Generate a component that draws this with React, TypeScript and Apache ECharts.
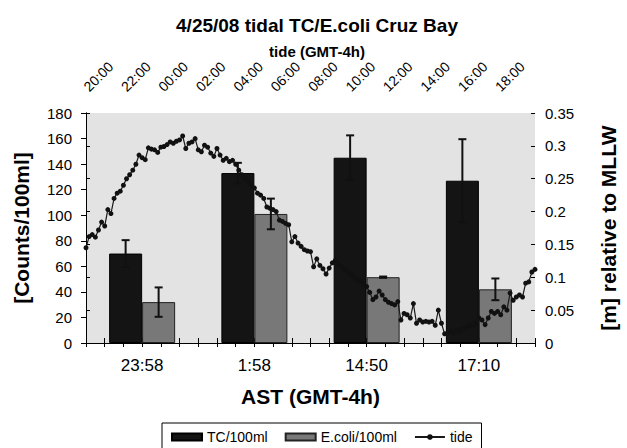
import React, { useEffect, useRef } from "react";
import * as echarts from "echarts";

const categories = ["23:58", "1:58", "14:50", "17:10"];
const tcValues = [70, 133, 145, 127];
const tcErrors = [10.5, 8, 17.5, 32.5];
const ecoliValues = [32, 101, 51.5, 42];
const ecoliErrors = [11.5, 12, 0.5, 8.5];
const topTickLabels = ["20:00", "22:00", "00:00", "02:00", "04:00", "06:00", "08:00", "10:00", "12:00", "14:00", "16:00", "18:00"];
// tide level [m] sampled every 10 minutes starting 20:00 (GMT-4h)
const tideStepHours = 1 / 6;
const tideLevels = [
  0.145, 0.162, 0.165, 0.161, 0.172, 0.184, 0.178, 0.203, 0.197, 0.22,
  0.228, 0.231, 0.24, 0.25, 0.256, 0.263, 0.272, 0.286, 0.282, 0.279,
  0.297, 0.295, 0.294, 0.29, 0.298, 0.299, 0.302, 0.306, 0.304, 0.307,
  0.309, 0.315, 0.296, 0.304, 0.306, 0.311, 0.294, 0.291, 0.301, 0.298,
  0.289, 0.284, 0.296, 0.286, 0.278, 0.281, 0.276, 0.278, 0.272, 0.263,
  0.256, 0.25, 0.246, 0.241, 0.236, 0.228, 0.225, 0.22, 0.207, 0.205,
  0.203, 0.2, 0.187, 0.185, 0.182, 0.18, 0.154, 0.162, 0.152, 0.147,
  0.142, 0.14, 0.139, 0.116, 0.128, 0.118, 0.113, 0.105, 0.114, 0.122,
  0.126, 0.12, 0.116, 0.112, 0.108, 0.104, 0.1, 0.097, 0.094, 0.09,
  0.086, 0.077, 0.066, 0.07, 0.079, 0.073, 0.066, 0.062, 0.06, 0.058,
  0.063, 0.035, 0.045, 0.043, 0.038, 0.06, 0.03, 0.035, 0.032, 0.033,
  0.032, 0.033, 0.027, 0.05, 0.03, 0.014, 0.016, 0.018, 0.015, 0.02,
  0.018, 0.022, 0.024, 0.027, 0.025, 0.03, 0.038, 0.035, 0.028, 0.038,
  0.048, 0.045, 0.048, 0.043, 0.055, 0.05, 0.076, 0.065, 0.07, 0.073,
  0.07, 0.091, 0.093, 0.108, 0.112,
];

const FONT = "'Liberation Sans', Arial, sans-serif";
const BAR_WIDTH = 33;

function errorRenderer(params: any, api: any) {
  const idx = api.value(0);
  const val = api.value(1);
  const err = api.value(2);
  const sign = api.value(3);
  const top = api.coord([idx, val + err]);
  const bot = api.coord([idx, val - err]);
  const x = top[0] + (sign * BAR_WIDTH) / 2;
  const cap = 4;
  const style = { stroke: "#111", lineWidth: 2 };
  return {
    type: "group",
    children: [
      { type: "line", shape: { x1: x, y1: top[1], x2: x, y2: bot[1] }, style },
      { type: "line", shape: { x1: x - cap, y1: top[1], x2: x + cap, y2: top[1] }, style },
      { type: "line", shape: { x1: x - cap, y1: bot[1], x2: x + cap, y2: bot[1] }, style },
    ],
  };
}

export default function App() {
  const ref = useRef<HTMLDivElement>(null);
  useEffect(() => {
    if (!ref.current) return;
    const chart = echarts.init(ref.current, undefined, { renderer: "svg" });
    const axisLineStyle = { color: "#000", width: 1 };
    const option: any = {
      animation: false,
      backgroundColor: "#fff",
      textStyle: { fontFamily: FONT, color: "#000" },
      title: {
        text: "4/25/08 tidal TC/E.coli Cruz Bay",
        subtext: "tide (GMT-4h)",
        left: 317,
        textAlign: "center",
        top: 16,
        padding: 0,
        itemGap: 9,
        textStyle: { fontFamily: FONT, fontSize: 19, fontWeight: "bold", color: "#000" },
        subtextStyle: { fontFamily: FONT, fontSize: 15, fontWeight: "bold", color: "#000" },
      },
      legend: {
        left: 162,
        top: 423,
        padding: [7, 9, 7, 9],
        borderColor: "#000",
        borderWidth: 1,
        itemWidth: 30,
        itemHeight: 7,
        itemGap: 17,
        textStyle: { fontFamily: FONT, fontSize: 14, color: "#000" },
        data: [
          { name: "TC/100ml", icon: "rect" },
          { name: "E.coli/100ml", icon: "rect" },
          { name: "tide" },
        ],
      },
      grid: {
        left: 86,
        right: 79,
        top: 113,
        bottom: 105,
        show: true,
        backgroundColor: "#e3e3e3",
        borderWidth: 0,
      },
      xAxis: [
        {
          type: "category",
          position: "bottom",
          data: categories,
          axisLine: { show: true, lineStyle: axisLineStyle },
          axisTick: { show: true, length: 4, lineStyle: axisLineStyle },
          axisLabel: { fontFamily: FONT, fontSize: 17, color: "#000", margin: 14 },
          name: "AST (GMT-4h)",
          nameLocation: "middle",
          nameGap: 43,
          nameTextStyle: { fontFamily: FONT, fontSize: 21, fontWeight: "bold", color: "#000" },
        },
        {
          type: "value",
          position: "top",
          min: 0,
          max: 24,
          interval: 1,
          axisLine: { show: true, lineStyle: axisLineStyle },
          axisTick: { show: true, length: 5, lineStyle: axisLineStyle },
          splitLine: { show: false },
          axisLabel: {
            fontFamily: FONT,
            fontSize: 14,
            color: "#000",
            rotate: 45,
            margin: 24,
            formatter: (v: number) => (v % 2 === 0 ? topTickLabels[v / 2] ?? "" : ""),
          },
        },
        {
          type: "value",
          position: "top",
          min: 0,
          max: 24,
          interval: 1,
          axisLine: { show: false },
          axisTick: { show: true, inside: true, length: 4, lineStyle: axisLineStyle },
          axisLabel: { show: false },
          splitLine: { show: false },
        },
        {
          type: "category",
          position: "bottom",
          data: categories,
          axisLine: { show: false },
          axisTick: { show: true, inside: true, length: 4, lineStyle: axisLineStyle },
          axisLabel: { show: false },
        },
      ],
      yAxis: [
        {
          type: "value",
          position: "left",
          min: 0,
          max: 180,
          interval: 20,
          axisLine: { show: true, lineStyle: axisLineStyle },
          axisTick: { show: true, length: 5, lineStyle: axisLineStyle },
          splitLine: { show: false },
          axisLabel: { fontFamily: FONT, fontSize: 15, color: "#000", margin: 14 },
          name: "[Counts/100ml]",
          nameLocation: "middle",
          nameGap: 54,
          nameTextStyle: { fontFamily: FONT, fontSize: 21, fontWeight: "bold", color: "#000" },
        },
        {
          type: "value",
          position: "right",
          min: 0,
          max: 0.35,
          interval: 0.05,
          axisLine: { show: true, lineStyle: axisLineStyle },
          axisTick: { show: true, length: 4, lineStyle: axisLineStyle },
          splitLine: { show: false },
          axisLabel: { fontFamily: FONT, fontSize: 15, color: "#000", margin: 10 },
          name: "[m] relative to MLLW",
          nameLocation: "middle",
          nameGap: 63,
          nameTextStyle: { fontFamily: FONT, fontSize: 21, fontWeight: "bold", color: "#000" },
        },
        {
          type: "value",
          position: "right",
          min: 0,
          max: 0.35,
          interval: 0.05,
          axisLine: { show: false },
          axisTick: { show: true, inside: true, length: 4, lineStyle: axisLineStyle },
          splitLine: { show: false },
          axisLabel: { show: false },
        },
      ],
      series: [
        {
          name: "TC/100ml",
          type: "bar",
          xAxisIndex: 0,
          yAxisIndex: 0,
          barWidth: BAR_WIDTH,
          barGap: "0%",
          data: tcValues,
          itemStyle: { color: "#141414", borderColor: "#000", borderWidth: 1 },
        },
        {
          name: "E.coli/100ml",
          type: "bar",
          xAxisIndex: 0,
          yAxisIndex: 0,
          barWidth: BAR_WIDTH,
          barGap: "0%",
          data: ecoliValues,
          itemStyle: { color: "#787878", borderColor: "#222", borderWidth: 1 },
        },
        {
          name: "tide",
          type: "line",
          xAxisIndex: 1,
          yAxisIndex: 1,
          data: tideLevels.map((v, i) => [i * tideStepHours, v]),
          symbol: "circle",
          symbolSize: 5,
          showAllSymbol: true,
          lineStyle: { color: "#1a1a1a", width: 1.2 },
          itemStyle: { color: "#111" },
          z: 3,
        },
        {
          name: "TC error",
          type: "custom",
          xAxisIndex: 0,
          yAxisIndex: 0,
          encode: { x: 0, y: 1 },
          renderItem: errorRenderer,
          data: categories.map((c, i) => [i, tcValues[i], tcErrors[i], -1]),
          z: 4,
        },
        {
          name: "E.coli error",
          type: "custom",
          xAxisIndex: 0,
          yAxisIndex: 0,
          encode: { x: 0, y: 1 },
          renderItem: errorRenderer,
          data: categories.map((c, i) => [i, ecoliValues[i], ecoliErrors[i], 1]),
          z: 4,
        },
      ],
    };
    chart.setOption(option);
    return () => chart.dispose();
  }, []);
  return (
    <div
      ref={ref}
      style={{ position: "fixed", left: 0, top: 0, width: 627, height: 448, background: "#fff" }}
    />
  );
}
